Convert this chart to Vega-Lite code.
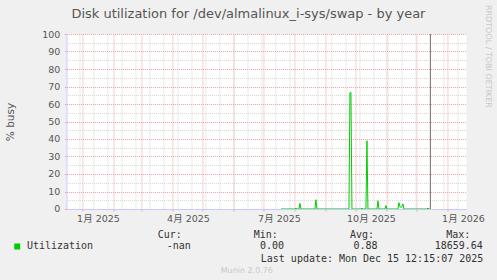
{
  "$schema": "https://vega.github.io/schema/vega-lite/v6.json",
  "background": "#f0f0f0",
  "padding": {"left": 5.45, "top": 5, "right": 6, "bottom": 8},
  "title": {"text": "RRDTOOL / TOBI OETIKER", "orient": "right", "anchor": "start", "frame": "bounds", "font": "DejaVu Sans", "fontSize": 8, "fontWeight": "normal", "color": "#c8c8c8", "offset": 0, "dx": -3},
  "spacing": 31,
  "bounds": "flush",
  "config": {"view": {"stroke": null, "fill": "#ffffff"}},
  "vconcat": [
    {
      "width": 400,
      "height": 175,
      "title": {"text": "Disk utilization for /dev/almalinux_i-sys/swap - by year", "font": "DejaVu Sans", "fontSize": 13, "fontWeight": "normal", "color": "#555555", "anchor": "middle", "frame": "group", "offset": 8, "dx": -18},
      "layer": [
        {
          "data": {"values": [
            {"time": "2025-07-19T00:00:00", "busy": 0},
            {"time": "2025-08-02T00:00:00", "busy": 0},
            {"time": "2025-08-03T00:00:00", "busy": 0.5},
            {"time": "2025-08-04T00:00:00", "busy": 0},
            {"time": "2025-08-06T00:00:00", "busy": 0},
            {"time": "2025-08-07T00:00:00", "busy": 3.2},
            {"time": "2025-08-08T00:00:00", "busy": 0},
            {"time": "2025-08-22T00:00:00", "busy": 0},
            {"time": "2025-08-23T00:00:00", "busy": 5.3},
            {"time": "2025-08-24T00:00:00", "busy": 0},
            {"time": "2025-09-25T00:00:00", "busy": 0},
            {"time": "2025-09-26T00:00:00", "busy": 66.5},
            {"time": "2025-09-27T00:00:00", "busy": 66.5},
            {"time": "2025-09-28T00:00:00", "busy": 0},
            {"time": "2025-10-07T00:00:00", "busy": 0},
            {"time": "2025-10-08T00:00:00", "busy": 0.5},
            {"time": "2025-10-09T00:00:00", "busy": 0},
            {"time": "2025-10-12T00:00:00", "busy": 0},
            {"time": "2025-10-13T00:00:00", "busy": 39},
            {"time": "2025-10-14T00:00:00", "busy": 0},
            {"time": "2025-10-23T00:00:00", "busy": 0},
            {"time": "2025-10-24T00:00:00", "busy": 4.7},
            {"time": "2025-10-25T00:00:00", "busy": 0},
            {"time": "2025-10-31T00:00:00", "busy": 0},
            {"time": "2025-11-01T00:00:00", "busy": 2},
            {"time": "2025-11-02T00:00:00", "busy": 0},
            {"time": "2025-11-13T00:00:00", "busy": 0},
            {"time": "2025-11-14T00:00:00", "busy": 3.6},
            {"time": "2025-11-15T00:00:00", "busy": 1.5},
            {"time": "2025-11-16T00:00:00", "busy": 0.8},
            {"time": "2025-11-17T00:00:00", "busy": 1.5},
            {"time": "2025-11-18T00:00:00", "busy": 2.9},
            {"time": "2025-11-19T00:00:00", "busy": 0},
            {"time": "2025-12-12T00:00:00", "busy": 0},
            {"time": "2025-12-13T00:00:00", "busy": 0.5},
            {"time": "2025-12-14T00:00:00", "busy": 0},
            {"time": "2025-12-15T00:00:00", "busy": 0}
          ]},
          "mark": {"type": "line", "color": "#00cc00", "strokeWidth": 1, "clip": true},
          "encoding": {
            "x": {
              "field": "time", "type": "temporal",
              "scale": {"domain": [{"year": 2024, "month": 12, "date": 16, "hours": 12}, {"year": 2026, "month": 1, "date": 20, "hours": 12}]},
              "axis": {
                "orient": "bottom",
                "values": [
                  {"year": 2025, "month": 1, "date": 1}, {"year": 2025, "month": 2, "date": 1}, {"year": 2025, "month": 3, "date": 1},
                  {"year": 2025, "month": 4, "date": 1}, {"year": 2025, "month": 5, "date": 1}, {"year": 2025, "month": 6, "date": 1},
                  {"year": 2025, "month": 7, "date": 1}, {"year": 2025, "month": 8, "date": 1}, {"year": 2025, "month": 9, "date": 1},
                  {"year": 2025, "month": 10, "date": 1}, {"year": 2025, "month": 11, "date": 1}, {"year": 2025, "month": 12, "date": 1},
                  {"year": 2026, "month": 1, "date": 1}
                ],
                "labelExpr": "month(datum.value) % 3 == 0 ? (month(datum.value) + 1) + '月 ' + year(datum.value) : ''",
                "labelOffset": 16,
                "labelFont": "DejaVu Sans, Noto Sans CJK JP",
                "labelFontSize": 9.5,
                "labelColor": "#555555",
                "labelPadding": 3,
                "labelFlush": false,
                "labelOverlap": false,
                "labelBound": false,
                "grid": true, "gridColor": "#f0a0a0", "gridDash": [1, 1], "gridWidth": 1,
                "ticks": true, "tickSize": 2, "tickColor": "#f0a0a0",
                "domain": true, "domainColor": "#c8c8ff", "domainWidth": 1,
                "title": null
              }
            },
            "y": {
              "field": "busy", "type": "quantitative",
              "scale": {"domain": [0, 100], "nice": false},
              "axis": {
                "orient": "left",
                "values": [0, 10, 20, 30, 40, 50, 60, 70, 80, 90, 100],
                "grid": true, "gridColor": "#f0a0a0", "gridDash": [1, 1], "gridWidth": 1,
                "ticks": true, "tickSize": 2, "tickColor": "#f0a0a0",
                "labelPadding": 4.7,
                "labelFont": "DejaVu Sans", "labelFontSize": 9.5, "labelColor": "#555555",
                "domain": true, "domainColor": "#c8c8ff", "domainWidth": 1,
                "title": "% busy",
                "titleFont": "DejaVu Sans", "titleFontSize": 10.5, "titleFontWeight": "normal", "titleColor": "#555555",
                "titleX": -56, "titleY": 87.5, "titleAngle": 270, "titleBaseline": "middle", "titleAlign": "center"
              }
            }
          }
        },
        {
          "data": {"values": [{"time": "2025-12-15T12:15:07"}]},
          "mark": {"type": "rule", "color": "#777777", "strokeWidth": 1},
          "encoding": {
            "x": {
              "field": "time", "type": "temporal",
              "axis": {
                "orient": "top",
                "values": [
                  {"year": 2024, "month": 12, "date": 29}, {"year": 2025, "month": 1, "date": 12}, {"year": 2025, "month": 1, "date": 26},
                  {"year": 2025, "month": 2, "date": 9}, {"year": 2025, "month": 2, "date": 23}, {"year": 2025, "month": 3, "date": 9},
                  {"year": 2025, "month": 3, "date": 23}, {"year": 2025, "month": 4, "date": 6}, {"year": 2025, "month": 4, "date": 20},
                  {"year": 2025, "month": 5, "date": 4}, {"year": 2025, "month": 5, "date": 18}, {"year": 2025, "month": 6, "date": 1},
                  {"year": 2025, "month": 6, "date": 15}, {"year": 2025, "month": 6, "date": 29}, {"year": 2025, "month": 7, "date": 13},
                  {"year": 2025, "month": 7, "date": 27}, {"year": 2025, "month": 8, "date": 10}, {"year": 2025, "month": 8, "date": 24},
                  {"year": 2025, "month": 9, "date": 7}, {"year": 2025, "month": 9, "date": 21}, {"year": 2025, "month": 10, "date": 5},
                  {"year": 2025, "month": 10, "date": 19}, {"year": 2025, "month": 11, "date": 2}, {"year": 2025, "month": 11, "date": 16},
                  {"year": 2025, "month": 11, "date": 30}, {"year": 2025, "month": 12, "date": 14}, {"year": 2025, "month": 12, "date": 28},
                  {"year": 2026, "month": 1, "date": 11}
                ],
                "labels": false, "ticks": false, "domain": false,
                "grid": true, "gridColor": "#d6d6d6", "gridDash": [1, 1], "gridWidth": 1,
                "title": null
              }
            },
            "y": {
              "datum": 0, "type": "quantitative",
              "axis": {
                "orient": "right",
                "values": [5, 15, 25, 35, 45, 55, 65, 75, 85, 95],
                "labels": false, "ticks": false, "domain": false,
                "grid": true, "gridColor": "#d6d6d6", "gridDash": [1, 1], "gridWidth": 1,
                "title": null
              }
            },
            "y2": {"datum": 100}
          }
        }
      ],
      "resolve": {"axis": {"x": "independent", "y": "independent"}}
    },
    {
      "width": 416.3,
      "height": 12,
      "view": {"fill": "#f0f0f0", "stroke": null},
      "title": {"text": "Munin 2.0.76", "orient": "bottom", "anchor": "middle", "frame": "bounds", "font": "DejaVu Sans", "fontSize": 8, "fontWeight": "normal", "color": "#c8c8c8", "offset": 4},
      "data": {"values": [
        {"series": "Utilization", "stat": "Cur:", "value": "-nan"},
        {"series": "Utilization", "stat": "Min:", "value": "0.00"},
        {"series": "Utilization", "stat": "Avg:", "value": "0.88"},
        {"series": "Utilization", "stat": "Max:", "value": "18659.64"}
      ]},
      "encoding": {
        "y": {
          "field": "series", "type": "nominal",
          "scale": {"type": "point"},
          "axis": {
            "orient": "left", "offset": 46.7, "domain": false, "grid": false,
            "ticks": true, "tickSize": 6, "tickWidth": 6, "tickColor": "#00cc00", "tickCap": "butt",
            "labelAlign": "left", "labelPadding": -12.7, "labelBaseline": "middle",
            "labelFont": "DejaVu Sans Mono", "labelFontSize": 10, "labelColor": "#333333",
            "title": null
          }
        }
      },
      "layer": [
        {
          "mark": {"type": "text", "font": "DejaVu Sans Mono", "fontSize": 10, "color": "#333333", "align": "center", "baseline": "middle"},
          "encoding": {
            "x": {
              "field": "stat", "type": "nominal", "sort": null,
              "scale": {"type": "point", "padding": 0.73, "align": 0.824},
              "axis": {
                "orient": "bottom", "labels": false, "ticks": false, "domain": false, "grid": false,
                "title": "Last update: Mon Dec 15 12:15:07 2025",
                "titleFont": "DejaVu Sans Mono", "titleFontSize": 10, "titleFontWeight": "normal", "titleColor": "#333333",
                "titleAnchor": "end", "titlePadding": 1.5
              }
            },
            "text": {"field": "value"}
          }
        },
        {
          "mark": {"type": "text", "font": "DejaVu Sans Mono", "fontSize": 10, "color": "#333333", "align": "center", "baseline": "middle", "dy": -11.3},
          "encoding": {
            "x": {
              "field": "stat", "type": "nominal", "sort": null,
              "scale": {"type": "point", "padding": 0.664, "align": 0.808},
              "axis": null
            },
            "text": {"field": "stat"}
          }
        }
      ],
      "resolve": {"scale": {"x": "independent"}}
    }
  ]
}
